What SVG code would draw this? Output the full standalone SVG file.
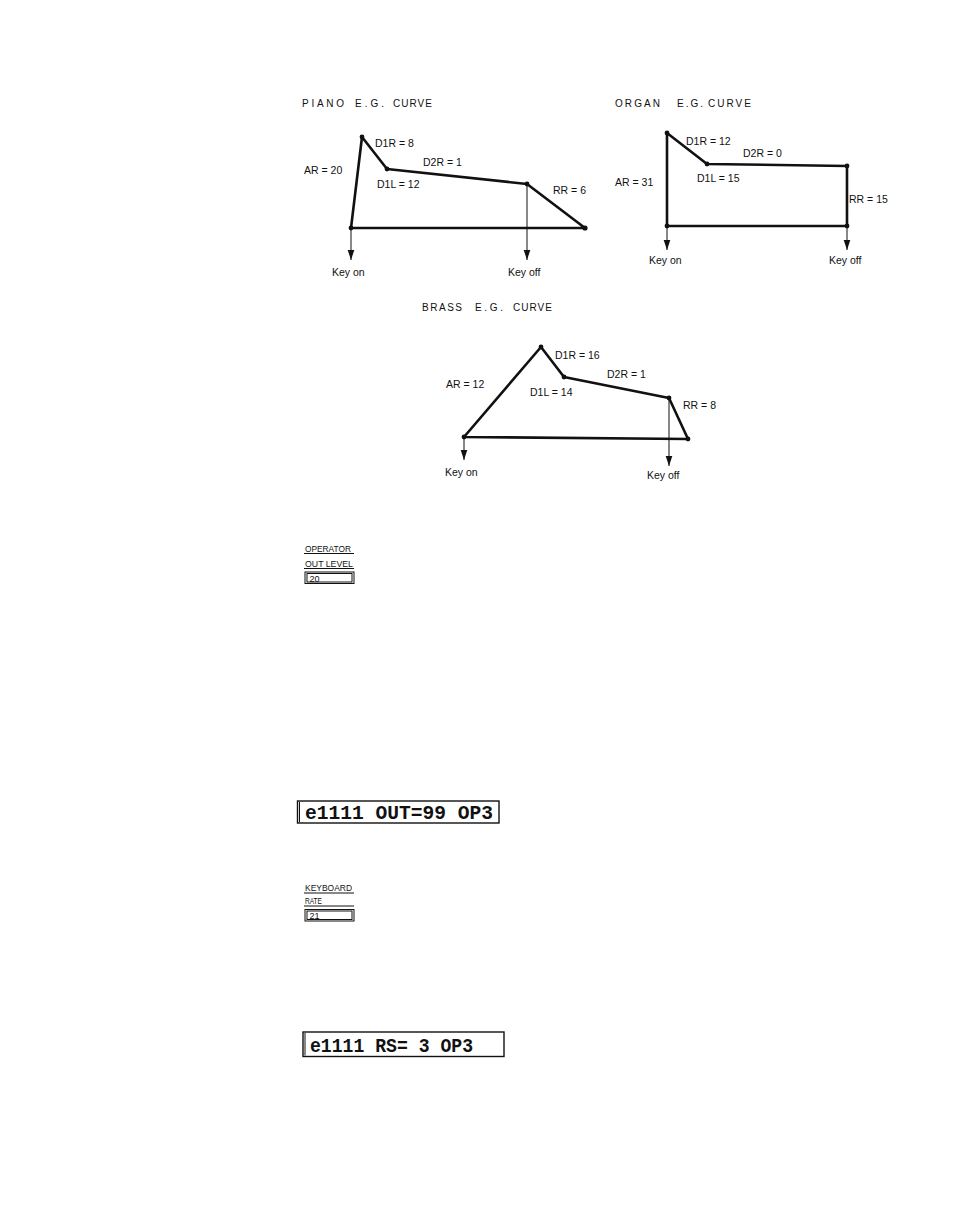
<svg xmlns="http://www.w3.org/2000/svg" width="954" height="1231" viewBox="0 0 954 1231">
<style>
  .bg{fill:#ffffff}
  .env{fill:none;stroke:#111;stroke-width:2.6;stroke-linejoin:round}
  .dot{fill:#111}
  .thin{fill:none;stroke:#111;stroke-width:1}
  .lbl{font-family:"Liberation Sans",Arial,sans-serif;font-size:10.5px;fill:#111}
  .ttl{font-family:"Liberation Sans",Arial,sans-serif;font-size:10px;fill:#111}
  .pnl{font-family:"Liberation Sans",Arial,sans-serif;font-size:8.5px;fill:#111}
  .pv{font-family:"Liberation Sans",Arial,sans-serif;font-size:9px;fill:#111}
  .lcd{font-family:"Liberation Mono","Courier New",monospace;font-size:20px;font-weight:bold;fill:#111}
  .lcdbox{fill:none;stroke:#111;stroke-width:1.4}
</style>
<defs>
  <marker id="ah" viewBox="0 -4 10 8" refX="10" refY="0" markerWidth="10" markerHeight="8" markerUnits="userSpaceOnUse" orient="auto">
    <path d="M0,-3.3 L10,0 L0,3.3 Z" fill="#111"/>
  </marker>
</defs>
<rect class="bg" x="0" y="0" width="954" height="1231"/>

<g id="piano-curve">
  <text class="ttl" y="107"><tspan x="302" textLength="42" lengthAdjust="spacing">PIANO</tspan><tspan x="355" textLength="29" lengthAdjust="spacing">E.G.</tspan><tspan x="393" textLength="39" lengthAdjust="spacing">CURVE</tspan></text>
  <path class="env" d="M351,228 L362,137 L387,169 L527,184 L585,228 Z"/>
  <circle class="dot" cx="362" cy="137" r="2.4"/>
  <circle class="dot" cx="387" cy="169" r="2.4"/>
  <circle class="dot" cx="527" cy="184" r="2.4"/>
  <circle class="dot" cx="585" cy="228" r="2.6"/>
  <circle class="dot" cx="351" cy="228" r="2.4"/>
  <text class="lbl" x="375" y="147">D1R = 8</text>
  <text class="lbl" x="423" y="166">D2R = 1</text>
  <text class="lbl" x="304" y="174">AR = 20</text>
  <text class="lbl" x="377" y="188">D1L = 12</text>
  <text class="lbl" x="553" y="194">RR = 6</text>
  <text class="lbl" x="332" y="276">Key on</text>
  <text class="lbl" x="508" y="276">Key off</text>
</g>

<g id="organ-curve">
  <text class="ttl" y="107"><tspan x="615" textLength="45" lengthAdjust="spacing">ORGAN</tspan><tspan x="677" textLength="26" lengthAdjust="spacing">E.G.</tspan><tspan x="708" textLength="43" lengthAdjust="spacing">CURVE</tspan></text>
  <path class="env" d="M667,226 L667,133 L707,164 L847,166 L847,226 Z"/>
  <circle class="dot" cx="667" cy="133" r="2.4"/>
  <circle class="dot" cx="707" cy="164" r="2.4"/>
  <circle class="dot" cx="847" cy="166" r="2.4"/>
  <circle class="dot" cx="847" cy="226" r="2.4"/>
  <circle class="dot" cx="667" cy="226" r="2.4"/>
  <text class="lbl" x="686" y="145">D1R = 12</text>
  <text class="lbl" x="743" y="157">D2R = 0</text>
  <text class="lbl" x="615" y="186">AR = 31</text>
  <text class="lbl" x="697" y="182">D1L = 15</text>
  <text class="lbl" x="849" y="203">RR = 15</text>
  <text class="lbl" x="649" y="264">Key on</text>
  <text class="lbl" x="829" y="264">Key off</text>
</g>

<g id="brass-curve">
  <text class="ttl" y="311"><tspan x="422" textLength="40" lengthAdjust="spacing">BRASS</tspan><tspan x="475" textLength="28" lengthAdjust="spacing">E.G.</tspan><tspan x="513" textLength="39" lengthAdjust="spacing">CURVE</tspan></text>
  <path class="env" d="M464,437 L541,347 L564,377 L669,398 L688,439 Z"/>
  <circle class="dot" cx="541" cy="347" r="2.4"/>
  <circle class="dot" cx="564" cy="377" r="2.4"/>
  <circle class="dot" cx="669" cy="398" r="2.4"/>
  <circle class="dot" cx="688" cy="439" r="2.4"/>
  <circle class="dot" cx="464" cy="437" r="2.4"/>
  <text class="lbl" x="555" y="359">D1R = 16</text>
  <text class="lbl" x="607" y="378">D2R = 1</text>
  <text class="lbl" x="446" y="388">AR = 12</text>
  <text class="lbl" x="530" y="396">D1L = 14</text>
  <text class="lbl" x="683" y="409">RR = 8</text>
  <text class="lbl" x="445" y="476">Key on</text>
  <text class="lbl" x="647" y="479">Key off</text>
</g>

<g id="connectors">
  <line class="thin" x1="351" y1="228" x2="351" y2="260" marker-end="url(#ah)"/>
  <line class="thin" x1="527" y1="184" x2="527" y2="260" marker-end="url(#ah)"/>
  <line class="thin" x1="667" y1="226" x2="667" y2="250" marker-end="url(#ah)"/>
  <line class="thin" x1="847" y1="226" x2="847" y2="250" marker-end="url(#ah)"/>
  <line class="thin" x1="464" y1="437" x2="464" y2="460" marker-end="url(#ah)"/>
  <line class="thin" x1="669" y1="398" x2="669" y2="466" marker-end="url(#ah)"/>
</g>

<g id="panel-out-level">
  <text class="pnl" x="305" y="551.5" textLength="46" lengthAdjust="spacingAndGlyphs">OPERATOR</text>
  <line class="thin" x1="304" y1="553.5" x2="354" y2="553.5" stroke-width="1.2"/>
  <text class="pnl" x="305" y="566.5" textLength="48" lengthAdjust="spacingAndGlyphs">OUT LEVEL</text>
  <line class="thin" x1="304" y1="568.5" x2="354" y2="568.5" stroke-width="1.2"/>
  <rect class="thin" x="305" y="572" width="49" height="11.5"/>
  <rect class="thin" x="307" y="573.5" width="45" height="8.5" stroke-width="1.3"/>
  <text class="pv" x="309.5" y="581.5">20</text>
</g>

<g id="lcd-out">
  <rect class="lcdbox" x="297.5" y="801" width="201.5" height="22"/>
  <line class="thin" x1="299.5" y1="802" x2="299.5" y2="822"/>
  <text class="lcd" x="305" y="819" textLength="188" lengthAdjust="spacingAndGlyphs">e1111 OUT=99 OP3</text>
</g>

<g id="panel-kb-rate">
  <text class="pnl" x="305" y="890.5" textLength="47" lengthAdjust="spacingAndGlyphs">KEYBOARD</text>
  <line class="thin" x1="304" y1="893" x2="354" y2="893" stroke-width="1.2"/>
  <text class="pnl" x="305" y="904" textLength="17" lengthAdjust="spacingAndGlyphs">RATE</text>
  <line class="thin" x1="304" y1="906" x2="354" y2="906" stroke-width="1.2"/>
  <rect class="thin" x="305" y="909.5" width="49" height="11.5"/>
  <rect class="thin" x="307" y="911" width="45" height="8.5" stroke-width="1.3"/>
  <text class="pv" x="309.5" y="919">21</text>
</g>

<g id="lcd-rs">
  <rect class="lcdbox" x="303" y="1032" width="201" height="24.5"/>
  <line class="thin" x1="305" y1="1033" x2="305" y2="1055.5"/>
  <text class="lcd" x="310" y="1051.5" textLength="163" lengthAdjust="spacingAndGlyphs">e1111 RS= 3 OP3</text>
</g>
</svg>
